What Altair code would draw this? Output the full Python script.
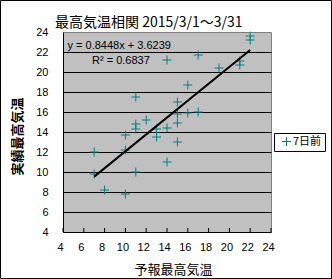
import altair as alt
import pandas as pd

# ---- data ----
forecast = [7, 7, 8, 10, 10, 10, 11, 11, 11, 11, 12, 13, 13, 14, 14, 14,
            15, 15, 15, 15, 16, 16, 17, 17, 19, 21, 21, 22, 22]
actual = [12.0, 9.8, 8.2, 7.8, 12.2, 13.7, 17.5, 14.8, 14.3, 10.0, 15.2,
          14.3, 13.5, 21.2, 14.4, 11.0, 17.0, 15.8, 14.9, 13.0, 18.7, 15.9,
          21.7, 16.0, 20.4, 21.1, 20.7, 23.6, 23.2]
series_name = "7日前"
slope = 0.8448
intercept = 3.6239
r_squared = 0.6837
trend_x = [7, 22]
axis_ticks = list(range(4, 25, 2))

title_text = "最高気温相関 2015/3/1～3/31"
x_title = "予報最高気温"
y_title = "実績最高気温"
eq_text = "y = 0.8448x + 3.6239"
r2_text = "R² = 0.6837"

# ---- tables ----
pts = pd.DataFrame({"forecast": forecast, "actual": actual, "series": series_name})
trend = pd.DataFrame({"forecast": trend_x,
                      "actual": [slope * v + intercept for v in trend_x]})
ticks_df = pd.DataFrame({"forecast": axis_ticks})
one = pd.DataFrame({"k": [0]})

W, H = 208, 200
PAD_L, PAD_T = 63, 32
CJK = "Noto Sans CJK JP"
LAT = "Liberation Sans"

xscale = alt.Scale(domain=[4, 24], nice=False, zero=False)
yscale = alt.Scale(domain=[4, 24], nice=False, zero=False)

cross = "M-1,0L1,0M0,-1L0,1"

x_axis = alt.Axis(values=axis_ticks, grid=False, ticks=False, tickSize=0,
                  domainColor="black", labelFont=LAT, labelFontSize=11,
                  labelColor="black", labelPadding=9, labelOffset=-3,
                  labelFlush=False, labelOverlap=False, title=x_title,
                  titleFont=CJK, titleFontSize=13, titleFontWeight="normal",
                  titleColor="black", titleX=110, titleY=41,
                  titleAlign="center", titleBaseline="alphabetic")
y_axis = alt.Axis(values=axis_ticks, grid=True, gridColor="black",
                  gridOpacity=alt.condition("datum.value >= 24 || datum.value <= 4",
                                            alt.value(0), alt.value(1)),
                  ticks=False, tickSize=0, domainColor="black",
                  labelFont=LAT, labelFontSize=11, labelColor="black",
                  labelPadding=15, labelFlush=False, labelOverlap=False,
                  title=y_title, titleFont=CJK, titleFontSize=13,
                  titleFontWeight="bold", titleColor="black", titleX=-42,
                  titleY=104, titleAngle=270, titleAlign="center",
                  titleBaseline="alphabetic")

X = alt.X("forecast:Q", scale=xscale, axis=x_axis)
Y = alt.Y("actual:Q", scale=yscale, axis=y_axis)

points = alt.Chart(pts).mark_point(
    shape=cross, filled=False, size=81, strokeWidth=1, opacity=1
).encode(
    x=X, y=Y,
    color=alt.Color("series:N", scale=alt.Scale(range=["#008080"]),
                    legend=alt.Legend(
                        title=None, orient="none", legendX=211, legendY=101,
                        padding=3, symbolOffset=4, symbolType=cross,
                        symbolSize=81, symbolStrokeWidth=1,
                        labelFont=CJK, labelFontSize=11, labelColor="black",
                        labelOffset=1, strokeColor="black", fillColor="white",
                        cornerRadius=0)),
)

line = alt.Chart(trend).mark_line(color="black", strokeWidth=2).encode(
    x=X, y=Y,
)

bottom_ticks = alt.Chart(ticks_df).mark_rule(color="black", strokeWidth=1).encode(
    x=X,
    y=alt.value(H - 4),
    y2=alt.value(H),
)

eq = alt.Chart(one).mark_text(font=LAT, fontSize=11, align="left",
                              baseline="middle", color="black").encode(
    x=alt.value(4.5), y=alt.value(13.5), text=alt.value(eq_text))
r2 = alt.Chart(one).mark_text(font=LAT, fontSize=11, align="left",
                              baseline="middle", color="black").encode(
    x=alt.value(29), y=alt.value(28.5), text=alt.value(r2_text))

title = alt.Chart(one).mark_text(font=CJK, fontSize=14, align="left",
                                 baseline="alphabetic", color="black").encode(
    x=alt.value(-8), y=alt.value(-5), text=alt.value(title_text))

frame = alt.Chart(one).mark_rect(fill=None, stroke="black", strokeWidth=1).encode(
    x=alt.value(-PAD_L + 0.5), x2=alt.value(332 - PAD_L - 0.5),
    y=alt.value(-PAD_T + 0.5), y2=alt.value(279 - PAD_T - 0.5))

chart = alt.layer(points, line, bottom_ticks, frame, eq, r2, title).properties(
    width=W, height=H,
    padding={"left": PAD_L, "top": PAD_T, "right": 332 - PAD_L - W,
             "bottom": 279 - PAD_T - H},
    autosize=alt.AutoSizeParams(type="none"),
    background="white",
).configure_view(
    fill="#C0C0C0", stroke="#808080", strokeWidth=1
)

chart.save("out.html", embed_options={"renderer": "svg", "actions": False})
